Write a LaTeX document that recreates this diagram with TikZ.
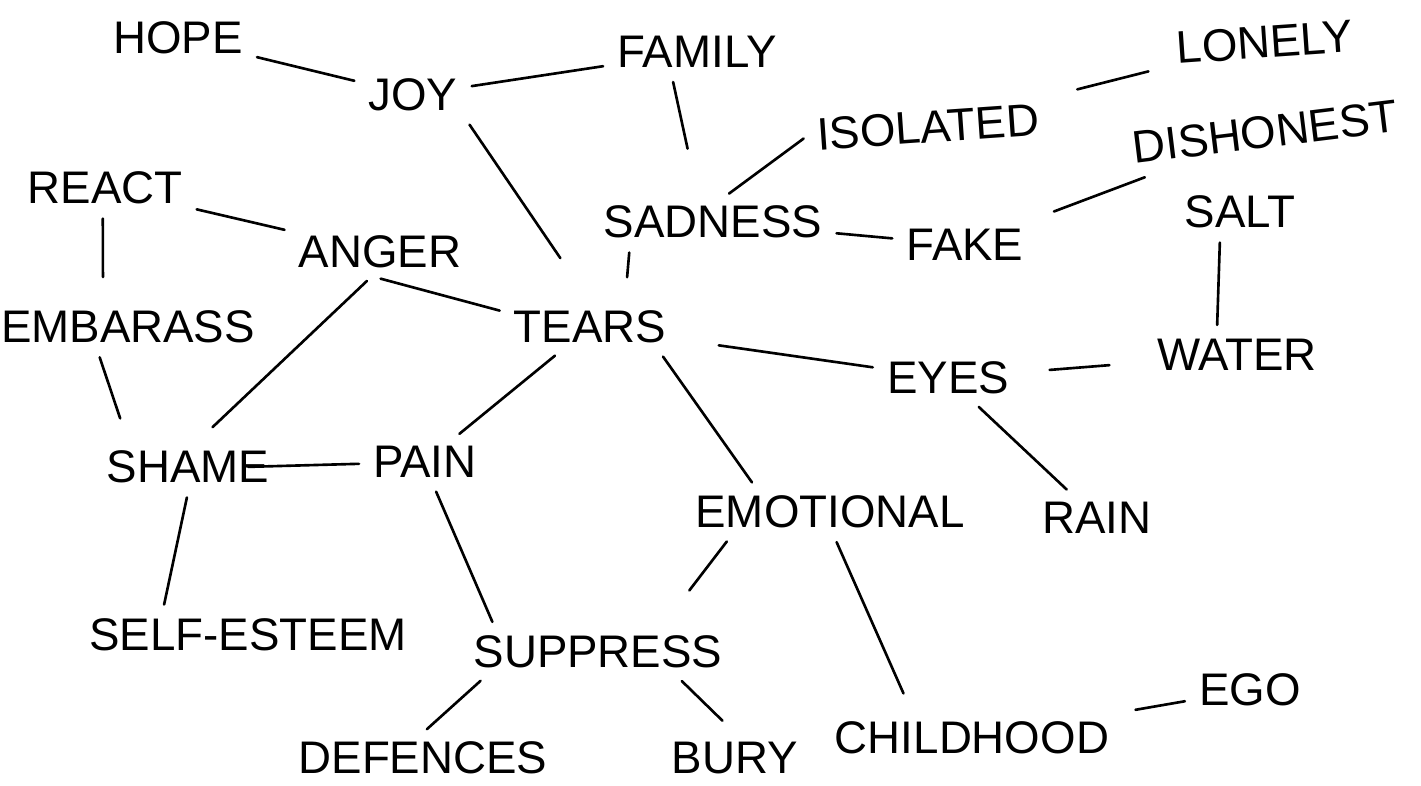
\documentclass[tikz,border=0pt]{standalone}
\usepackage{fontspec}
\setmainfont{Liberation Sans}

\begin{document}
\begin{tikzpicture}[x=0.02cm, y=-0.02cm]
\tikzstyle{word} = [inner sep=5pt, font=\fontsize{26}{30}\selectfont]
\tikzstyle{link} = [draw, line width=1.5pt, line cap=round, shorten <=3pt, shorten >=3pt]

\useasboundingbox (0,0) rectangle (1421,785);

\node [word] (hope) at (178,38) {HOPE};
\node [word] (joy) at (413,95) {JOY};
\node [word] (family) at (697,52) {FAMILY};
\node [word, rotate=4] (lonely) at (1265,42) {LONELY};
\node [word, rotate=4] (isolated) at (928,127) {ISOLATED};
\node [word, rotate=7] (dishonest) at (1265,132) {DISHONEST};
\node [word] (react) at (105,188) {REACT};
\node [word] (sadness) at (713,222) {SADNESS};
\node [word] (fake) at (965,245) {FAKE};
\node [word] (salt) at (1240,212) {SALT};
\node [word] (anger) at (380,252) {ANGER};
\node [word] (embarass) at (128,327) {EMBARASS};
\node [word] (tears) at (590,327) {TEARS};
\node [word] (eyes) at (948,378) {EYES};
\node [word] (water) at (1237,355) {WATER};
\node [word] (shame) at (188,467) {SHAME};
\node [word] (pain) at (425,462) {PAIN};
\node [word] (emotional) at (830,512) {EMOTIONAL};
\node [word] (rain) at (1097,518) {RAIN};
\node [word] (selfesteem) at (248,635) {SELF-ESTEEM};
\node [word] (suppress) at (598,652) {SUPPRESS};
\node [word] (childhood) at (972,738) {CHILDHOOD};
\node [word] (ego) at (1250,690) {EGO};
\node [word] (defences) at (423,758) {DEFENCES};
\node [word] (bury) at (735,758) {BURY};

\path [link] (hope) -- (joy);
\path [link] (joy) -- (family);
\path [link, shorten >=28pt] ([xshift=-0.5cm]family.south) -- ([xshift=-0.3cm]sadness.north);
\path [link, shorten >=30pt] (joy.south east) -- (tears.north);
\path [link] (isolated.west) -- (sadness.65);
\path [link, shorten <=18pt, shorten >=12pt] (isolated) -- (lonely);
\path [link] (sadness) -- (fake);
\path [link, shorten >=14pt] ([xshift=0.7cm]sadness.south west) -- ([xshift=0.7cm]tears.north);
\path [link, shorten <=14pt, shorten >=12pt] (fake) -- (dishonest);
\path [link] ([xshift=-0.4cm]salt.south) -- ([xshift=-0.4cm]water.north);
\path [link] (react) -- (anger);
\path [link, shorten >=14pt] (react.-95) -- ([xshift=-0.5cm]embarass.north);
\path [link] (anger.-100) -- (tears.170);
\path [link, shorten >=12pt] (anger.-110) -- (shame.70);
\path [link, shorten >=14pt] ([xshift=-0.6cm]embarass.south) -- ([xshift=-1.2cm]shame.north);
\path [link, shorten <=25pt] (tears) -- (eyes);
\path [link, shorten <=18pt, shorten >=22pt] (eyes) -- (water);
\path [link] (tears) -- (pain);
\path [link] ([xshift=1.4cm]tears.south) -- ([xshift=-1.5cm]emotional.north);
\path [link] (eyes) -- (rain);
\path [link] ([xshift=1.1cm]shame.center) -- (pain);
\path [link] (shame.south) -- ([xshift=-1.7cm]selfesteem.north);
\path [link] (pain.-70) -- ([xshift=0.6cm]suppress.north west);
\path [link, shorten >=26pt] ([xshift=-2cm]emotional.south) -- ([xshift=-1.4cm]suppress.north east);
\path [link, shorten >=12pt] (emotional.-80) -- ([xshift=-1.2cm]childhood.north);
\path [link] ([xshift=0.4cm]suppress.south west) -- (defences.north);
\path [link, shorten >=10pt] ([xshift=1.6cm]suppress.south) -- (bury.north);
\path [link, shorten <=10pt] (childhood) -- (ego);
\end{tikzpicture}
\end{document}
